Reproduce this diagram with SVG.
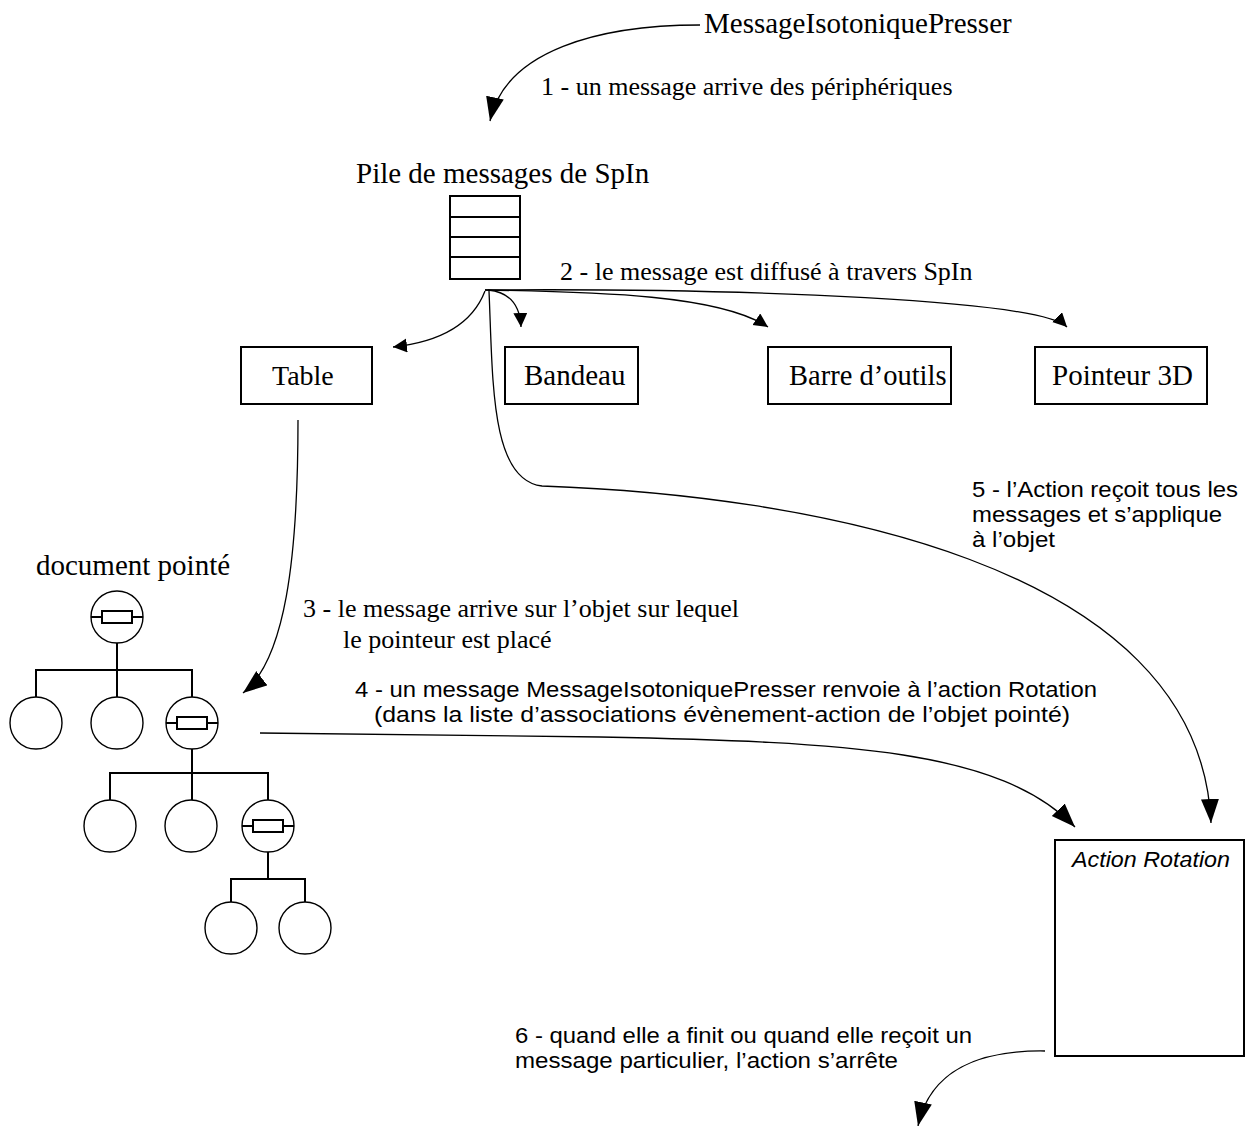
<svg xmlns="http://www.w3.org/2000/svg" width="1247" height="1126" viewBox="0 0 1247 1126">
<defs>
<style>
.serif{font-family:"Liberation Serif","Times New Roman",serif;fill:#000}
.sans{font-family:"Liberation Sans",Arial,sans-serif;fill:#000;font-size:22px}
.box{fill:#fff;stroke:#000;stroke-width:2}
.tree{fill:none;stroke:#000;stroke-width:2}
.circ{fill:#fff;stroke:#000;stroke-width:1.4}
.conn{fill:none;stroke:#000;stroke-width:1.3}
</style>
<marker id="big" markerUnits="userSpaceOnUse" markerWidth="26" markerHeight="20" refX="24" refY="9" orient="auto">
<path d="M0,0 L24,9 L0,18 z" fill="#000"/>
</marker>
<marker id="small" markerUnits="userSpaceOnUse" markerWidth="16" markerHeight="15" refX="14" refY="7" orient="auto">
<path d="M0,0 L14,7 L0,14 z" fill="#000"/>
</marker>
<g id="res">
<line x1="-26" y1="0" x2="-15" y2="0" stroke="#000" stroke-width="2"/>
<rect x="-15" y="-6" width="30" height="12" fill="#fff" stroke="#000" stroke-width="2"/>
<line x1="15" y1="0" x2="26" y2="0" stroke="#000" stroke-width="2"/>
</g>
</defs>
<rect width="1247" height="1126" fill="#fff"/>

<g id="labels">
<text class="serif" x="704" y="33" font-size="29">MessageIsotoniquePresser</text>
<text class="serif" x="541" y="95" font-size="26">1 - un message arrive des périphériques</text>
<text class="serif" x="356" y="183" font-size="29">Pile de messages de SpIn</text>
<text class="serif" x="560" y="280" font-size="26">2 - le message est diffusé à travers SpIn</text>
<text class="sans" x="972" y="497" textLength="266" lengthAdjust="spacingAndGlyphs">5 - l’Action reçoit tous les</text>
<text class="sans" x="972" y="522" textLength="250" lengthAdjust="spacingAndGlyphs">messages et s’applique</text>
<text class="sans" x="972" y="547" textLength="83" lengthAdjust="spacingAndGlyphs">à l’objet</text>
<text class="serif" x="36" y="575" font-size="29">document pointé</text>
<text class="serif" x="303" y="617" font-size="26">3 - le message arrive sur l’objet sur lequel</text>
<text class="serif" x="343" y="648" font-size="26">le pointeur est placé</text>
<text class="sans" x="355" y="697" textLength="742" lengthAdjust="spacingAndGlyphs">4 - un message MessageIsotoniquePresser renvoie à l’action Rotation</text>
<text class="sans" x="374" y="722" textLength="696" lengthAdjust="spacingAndGlyphs">(dans la liste d’associations évènement-action de l’objet pointé)</text>
<text class="sans" x="515" y="1043" textLength="457" lengthAdjust="spacingAndGlyphs">6 - quand elle a finit ou quand elle reçoit un</text>
<text class="sans" x="515" y="1068" textLength="383" lengthAdjust="spacingAndGlyphs">message particulier, l’action s’arrête</text>
</g>

<g id="stack">
<rect class="box" x="450" y="196" width="70" height="83"/>
<line x1="450" y1="217" x2="520" y2="217" stroke="#000" stroke-width="2"/>
<line x1="450" y1="237" x2="520" y2="237" stroke="#000" stroke-width="2"/>
<line x1="450" y1="257" x2="520" y2="257" stroke="#000" stroke-width="2"/>
</g>

<g id="node-table">
<rect class="box" x="241" y="347" width="131" height="57"/>
<text class="serif" x="272" y="385" font-size="28">Table</text>
</g>
<g id="node-bandeau">
<rect class="box" x="505" y="347" width="133" height="57"/>
<text class="serif" x="524" y="385" font-size="29">Bandeau</text>
</g>
<g id="node-barre">
<rect class="box" x="768" y="347" width="183" height="57"/>
<text class="serif" x="789" y="385" font-size="28.5">Barre d’outils</text>
</g>
<g id="node-pointeur">
<rect class="box" x="1035" y="347" width="172" height="57"/>
<text class="serif" x="1052" y="385" font-size="29">Pointeur 3D</text>
</g>

<g id="node-action">
<rect class="box" x="1055" y="840" width="189" height="216"/>
<text class="sans" x="1072" y="867" font-style="italic" textLength="158" lengthAdjust="spacingAndGlyphs">Action Rotation</text>
</g>

<g id="tree">
<path class="tree" d="M117,643 V670 M36,697 V670 H192 V697 M117,670 V697"/>
<path class="tree" d="M192,749 V773 M110,800 V773 H268 V800 M192,773 V800"/>
<path class="tree" d="M268,852 V879 M231,902 V879 H305 V902"/>
<circle class="circ" cx="117" cy="617" r="26"/>
<use href="#res" x="117" y="617"/>
<circle class="circ" cx="36" cy="723" r="26"/>
<circle class="circ" cx="117" cy="723" r="26"/>
<circle class="circ" cx="192" cy="723" r="26"/>
<use href="#res" x="192" y="723"/>
<circle class="circ" cx="110" cy="826" r="26"/>
<circle class="circ" cx="191" cy="826" r="26"/>
<circle class="circ" cx="268" cy="826" r="26"/>
<use href="#res" x="268" y="826"/>
<circle class="circ" cx="231" cy="928" r="26"/>
<circle class="circ" cx="305" cy="928" r="26"/>
</g>

<g id="connectors">
<path class="conn" marker-end="url(#big)" d="M700,25 C600,25 505,50 490,121"/>
<path class="conn" marker-end="url(#small)" d="M485,291 C470,330 430,343 393,347"/>
<path class="conn" marker-end="url(#small)" d="M488,290 C510,292 520,305 521,327"/>
<path class="conn" marker-end="url(#small)" d="M485,290 C600,292 720,295 768,327"/>
<path class="conn" marker-end="url(#small)" d="M485,290 C750,288 1040,300 1067,327"/>
<path class="conn" marker-end="url(#big)" d="M489,291 C493,380 490,480 542,486 C800,495 1200,560 1211,823"/>
<path class="conn" marker-end="url(#big)" d="M298,420 C298,560 285,660 243,693"/>
<path class="conn" marker-end="url(#big)" d="M260,733 L600,737 C850,742 1000,750 1075,827"/>
<path class="conn" marker-end="url(#big)" d="M1045,1051 C980,1050 930,1070 918,1126"/>
</g>
</svg>
